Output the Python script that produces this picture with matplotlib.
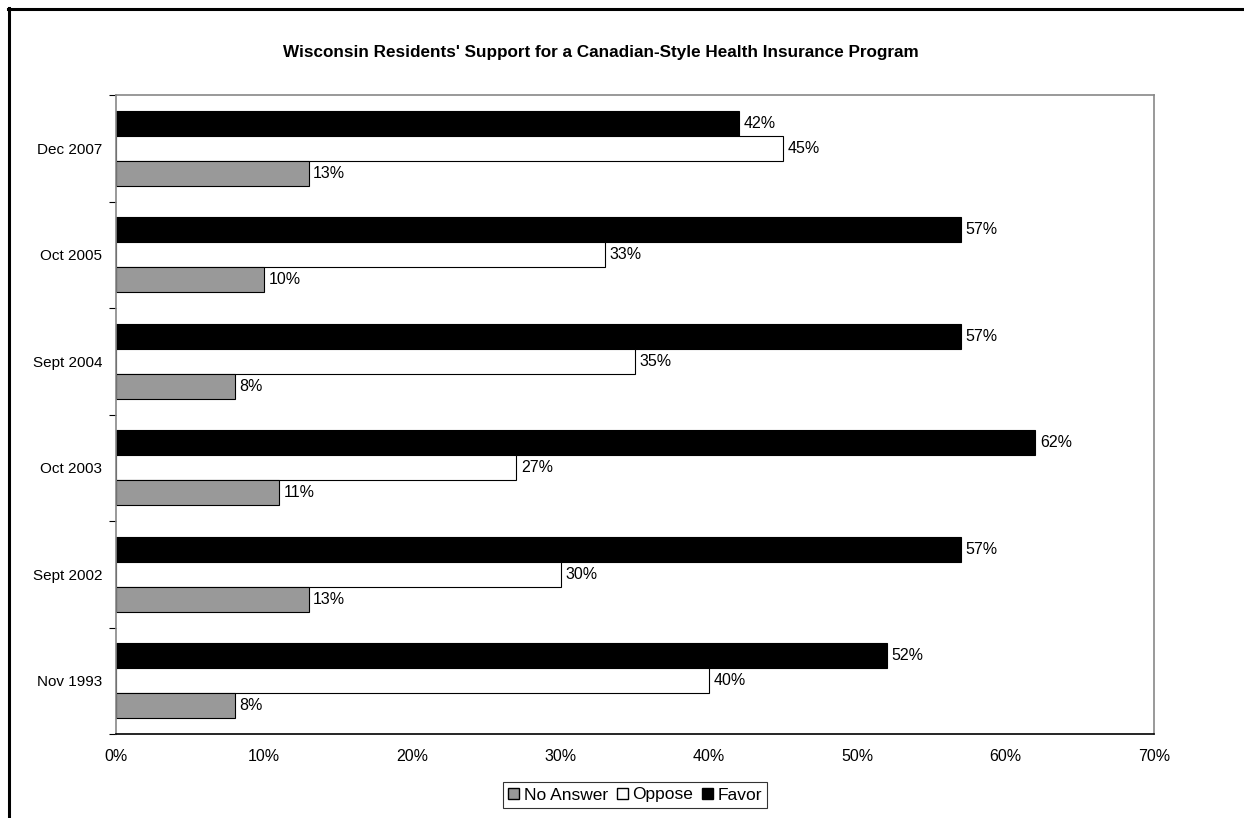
import matplotlib.pyplot as plt
import numpy as np
from matplotlib.patches import Patch
from matplotlib.lines import Line2D

plt.rcParams['font.family'] = ['Liberation Sans', 'DejaVu Sans']

# survey dates, bottom to top
dates = ['Nov 1993', 'Sept 2002', 'Oct 2003', 'Sept 2004', 'Oct 2005', 'Dec 2007']
favor = [52, 57, 62, 57, 57, 42]
oppose = [40, 30, 27, 35, 33, 45]
no_answer = [8, 13, 11, 8, 10, 13]

fig = plt.figure(figsize=(12.44, 8.18), dpi=100)
ax = fig.add_axes([116/1244, 1-734/818, (1154-116)/1244, (734-95)/818])

y = np.arange(len(dates))
h = 0.235
gray = '#999999'

b_fav = ax.barh(y + h, favor, height=h, color='black', edgecolor='black', linewidth=0.8)
b_opp = ax.barh(y, oppose, height=h, color='white', edgecolor='black', linewidth=0.8)
b_na = ax.barh(y - h, no_answer, height=h, color=gray, edgecolor='black', linewidth=0.8)

for bars, vals in [(b_fav, favor), (b_opp, oppose), (b_na, no_answer)]:
    for b, v in zip(bars, vals):
        ax.text(b.get_width() + 0.3, b.get_y() + b.get_height()/2, '%d%%' % v,
                va='center', ha='left', fontsize=11.5)

ax.set_xlim(0, 70)
ax.set_ylim(-0.5, len(dates) - 0.5)
ax.set_xticks(np.arange(0, 71, 10))
ax.set_xticklabels(['%d%%' % t for t in range(0, 71, 10)], fontsize=11.5)
ax.tick_params(axis='x', length=0, pad=11)

# category labels between boundary ticks
ax.set_yticks(y)
ax.set_yticklabels(dates, fontsize=11)
ax.set_yticks(np.arange(-0.5, len(dates), 1), minor=True)
ax.tick_params(axis='y', which='major', length=0, pad=10)
ax.tick_params(axis='y', which='minor', length=5, width=0.8, color='black')

for s in ['top', 'right', 'left']:
    ax.spines[s].set_color('#888888')
    ax.spines[s].set_linewidth(1.2)
ax.spines['bottom'].set_color('black')
ax.spines['bottom'].set_linewidth(1.2)

fig.text(601/1244, 1-53/818, "Wisconsin Residents' Support for a Canadian-Style Health Insurance Program",
         ha='center', va='center', fontsize=12.3, fontweight='bold')

handles = [Patch(facecolor=gray, edgecolor='black', label='No Answer'),
           Patch(facecolor='white', edgecolor='black', label='Oppose'),
           Patch(facecolor='black', edgecolor='black', label='Favor')]
leg = fig.legend(handles=handles, loc='center', bbox_to_anchor=(635/1244, 1-795/818), ncol=3,
                 fontsize=12.5, frameon=True, fancybox=False, handlelength=0.65, handleheight=0.65,
                 handletextpad=0.25, columnspacing=0.5, borderpad=0.3, borderaxespad=0)
leg.get_frame().set_edgecolor('black')
leg.get_frame().set_linewidth(0.8)

# outer chart frame (top and left edges visible)
fig.add_artist(Line2D([8/1244, 1], [1-9/818, 1-9/818], color='black', linewidth=2.2))
fig.add_artist(Line2D([9/1244, 9/1244], [0, 1-8/818], color='black', linewidth=2.2))

fig.savefig('out.png', dpi=100)
